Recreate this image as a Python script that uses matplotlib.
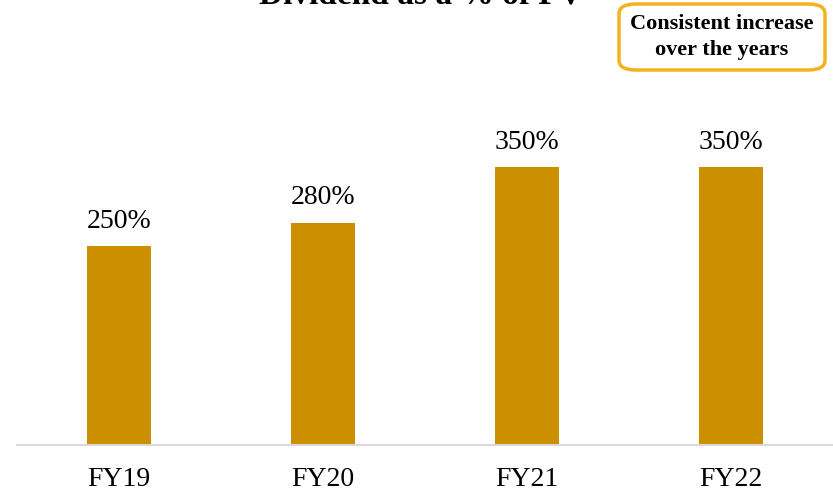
import matplotlib
matplotlib.use("Agg")
import matplotlib.pyplot as plt
from matplotlib.patches import FancyBboxPatch

categories = ["FY19", "FY20", "FY21", "FY22"]
values = [250, 280, 350, 350]
labels = ["250%", "280%", "350%", "350%"]
title = "Dividend as a % of FV"
note = "Consistent increase\nover the years"

W, H = 833, 493
fig = plt.figure(figsize=(W / 100, H / 100), dpi=100)
ax = fig.add_axes([17 / W, (H - 445) / H, (833 - 17) / W, (445 - 60) / H])

bar_color = "#CC8F00"
ax.bar(range(len(categories)), values, width=0.314, color=bar_color)
ax.set_xlim(-0.5, 3.5)
ax.set_ylim(0, (445 - 60) / 0.794)

for i, (v, lab) in enumerate(zip(values, labels)):
    ax.annotate(lab, (i, v), xytext=(0, 9), textcoords="offset points",
                ha="center", va="bottom", fontsize=20, family="Liberation Serif")

for s in ["top", "right", "left"]:
    ax.spines[s].set_visible(False)
ax.spines["bottom"].set_color("#D9D9D9")
ax.spines["bottom"].set_linewidth(1.5)
ax.set_yticks([])
ax.set_xticks(range(len(categories)))
ax.set_xticklabels(categories, fontsize=20, family="Liberation Serif")
ax.tick_params(axis="x", length=0, pad=16)

fig.text(421 / W, (H - 4) / H, title, ha="center", va="baseline",
         fontsize=24, fontweight="bold", family="Liberation Serif")

box = FancyBboxPatch((619 / W, (H - 70) / H), 206 / W, 66 / H,
                     boxstyle="round,pad=0,rounding_size=0.02",
                     transform=fig.transFigure, facecolor="white",
                     edgecolor="#F5B21E", linewidth=2.5)
fig.patches.append(box)
fig.text(722 / W, (H - 37) / H, note, ha="center", va="center",
         fontsize=16, fontweight="bold", family="Liberation Serif", linespacing=1.35)

fig.savefig("out.png", dpi=100)
